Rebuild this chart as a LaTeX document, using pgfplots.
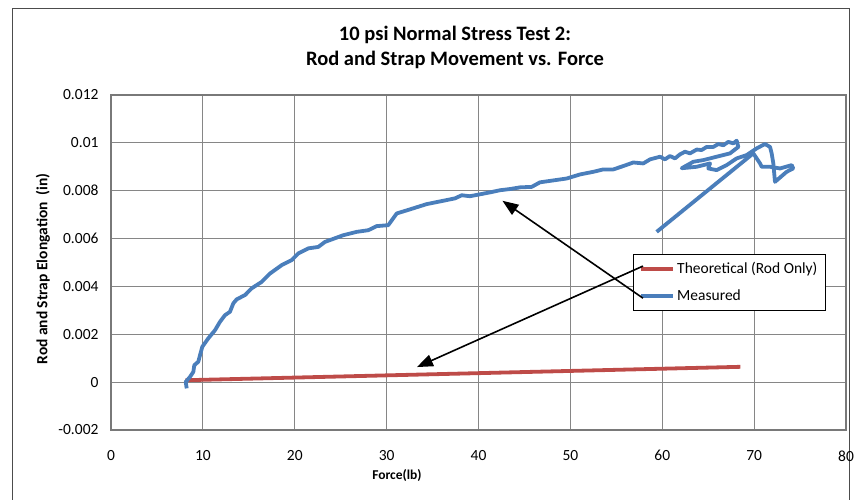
\documentclass[border=0pt]{standalone}
\usepackage{pgfplots}
\pgfplotsset{compat=1.18}
\usetikzlibrary{arrows.meta}
\usepackage{fontspec}
\setmainfont{Carlito}
\definecolor{exblue}{RGB}{74,126,187}
\definecolor{exred}{RGB}{190,75,72}
\definecolor{gridgray}{RGB}{134,134,134}

\begin{document}
\begin{tikzpicture}
\useasboundingbox (0,0) rectangle (857pt,500pt);
\draw[black!70, line width=0.8pt] (12pt,-10pt) rectangle (849pt,492pt);
\node[font=\fontsize{20.5}{24}\selectfont\bfseries] at (455pt,465pt) {10 psi Normal Stress Test 2:};
\node[font=\fontsize{20.5}{24}\selectfont\bfseries] at (455pt,440pt) {Rod and Strap Movement vs. Force};
\node[font=\fontsize{13.5}{16}\selectfont\bfseries] at (397pt,24pt) {Force(lb)};
\node[font=\fontsize{15.5}{18}\selectfont\bfseries, rotate=90] at (43pt,231pt) {Rod and Strap Elongation\ \ (in)};

\begin{axis}[
  at={(111pt,70pt)}, anchor=south west,
  scale only axis, width=735pt, height=335pt,
  xmin=0, xmax=80, ymin=-0.002, ymax=0.012,
  xtick={0,10,...,80},
  ytick={-0.002,0,0.002,0.004,0.006,0.008,0.01,0.012},
  yticklabels={-0.002,0,0.002,0.004,0.006,0.008,0.01,0.012},
  scaled y ticks=false,
  grid=major,
  major grid style={gridgray, line width=1pt},
  axis line style={gridgray!90!black, line width=1.2pt},
  tick style={draw=none},
  ticklabel style={font=\fontsize{15.5}{18}\selectfont},
  x tick label style={yshift=-17pt},
  y tick label style={xshift=-9pt},
  /pgf/number format/assume math mode=true,
  legend style={at={(0.7102,0.5254)}, anchor=north west, draw=black, line width=0.8pt,
    fill=white, font=\fontsize{15.5}{18}\selectfont, inner xsep=6pt, inner ysep=6pt,
    row sep=11pt, nodes={inner xsep=2pt}},
  legend cell align=left,
  legend image code/.code={\draw[#1, line width=3.8pt] (0pt,0pt) -- (32pt,0pt);},
]
\addplot[exred, line width=3.8pt] coordinates {(8.1,0.00008) (68.5,0.00064)};
\addlegendentry{Theoretical (Rod Only)}
\addplot[exblue, line width=3.8pt, line join=round] coordinates {
(8.24,-0.00026) (8.13,0.00001) (8.60,0.00022) (8.96,0.00043) (9.07,0.00071)
(9.50,0.00085) (9.69,0.00113) (9.94,0.00148) (10.59,0.00183) (11.32,0.00217)
(11.86,0.00252) (12.41,0.00280) (12.95,0.00294) (13.31,0.00329) (13.68,0.00346)
(14.59,0.00364) (15.31,0.00392) (16.40,0.00419) (17.31,0.00454) (18.58,0.00489)
(19.67,0.00510) (20.39,0.00538) (21.47,0.00559) (22.56,0.00565) (23.29,0.00586)
(25.28,0.00614) (26.74,0.00628) (28.01,0.00635) (28.92,0.00652) (30.18,0.00656)
(31.10,0.00705) (32.54,0.00722) (34.36,0.00744) (36.17,0.00758) (37.44,0.00768)
(38.17,0.00781) (39.07,0.00777) (41.25,0.00793) (42.34,0.00802) (43.43,0.00807)
(44.52,0.00814) (45.79,0.00816) (46.69,0.00835) (49.60,0.00851) (51.05,0.00868)
(52.50,0.00879) (53.58,0.00889) (54.67,0.00889) (55.76,0.00903) (56.85,0.00918)
(57.94,0.00914) (58.67,0.00931) (59.76,0.00942) (60.30,0.00931) (60.84,0.00945)
(61.39,0.00935) (61.93,0.00952) (62.48,0.00963) (63.02,0.00956) (63.75,0.00972)
(64.29,0.00970) (64.84,0.00983) (65.56,0.00983) (66.10,0.00995) (66.65,0.00990)
(67.19,0.01004) (67.73,0.00998) (68.10,0.01009) (68.28,0.00983)
(67.37,0.00956) (65.92,0.00942) (64.47,0.00928) (63.38,0.00921) (62.12,0.00894)
(63.75,0.00900) (65.20,0.00914) (65.01,0.00893) (65.93,0.00886) (67.01,0.00907)
(68.10,0.00935) (69.19,0.00949) (70.28,0.00977) (71.18,0.00995) (71.73,0.00983)
(71.91,0.00956) (72.09,0.00914) (72.27,0.00837) (73.54,0.00879) (74.26,0.00893)
(74.09,0.00907) (72.82,0.00893) (71.73,0.00900) (70.82,0.00900) (70.64,0.00914)
(69.91,0.00956) (59.39,0.00628)
};
\addlegendentry{Measured}
\coordinate (a1s) at (axis cs:57.9,0.00485);
\coordinate (a1e) at (axis cs:33.3,0.00063);
\coordinate (a2s) at (axis cs:57.9,0.00351);
\coordinate (a2e) at (axis cs:42.6,0.00758);
\end{axis}
\draw[black, line width=1.6pt, -{Triangle[length=16pt,width=12pt]}] (a1s) -- (a1e);
\draw[black, line width=1.6pt, -{Triangle[length=16pt,width=12pt]}] (a2s) -- (a2e);
\end{tikzpicture}
\end{document}
